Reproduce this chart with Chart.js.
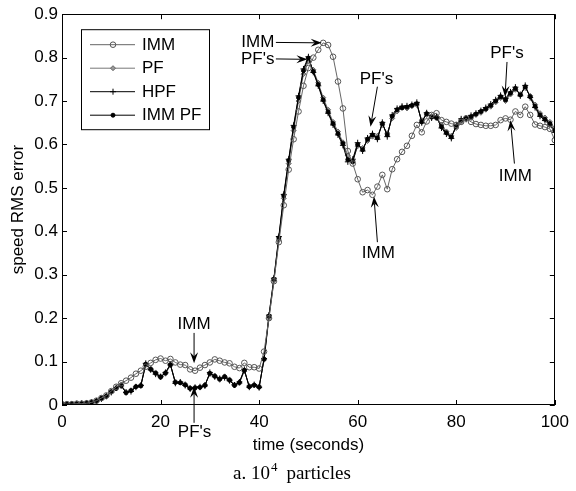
<!DOCTYPE html>
<html>
<head>
<meta charset="utf-8">
<script src="https://cdn.jsdelivr.net/npm/chart.js@4/dist/chart.umd.min.js"></script>
<style>
  html, body { margin: 0; padding: 0; background: #fff; }
  #wrap { width: 576px; height: 491px; position: relative; }
</style>
</head>
<body>
<div id="wrap"><canvas id="chart"></canvas></div>
<script>
const TIME = [0,1,2,3,4,5,6,7,8,9,10,11,12,13,14,15,16,17,18,19,20,21,22,23,24,25,26,27,28,29,30,
  31,32,33,34,35,36,37,38,39,40,41,42,43,44,45,46,47,48,49,50,51,52,53,54,55,56,57,58,59,60,
  61,62,63,64,65,66,67,68,69,70,71,72,73,74,75,76,77,78,79,80,81,82,83,84,85,86,87,88,89,90,
  91,92,93,94,95,96,97,98,99,100];

const IMM = [0.002,0.002,0.002,0.003,0.003,0.004,0.006,0.010,0.016,0.022,0.032,
  0.042,0.050,0.056,0.063,0.072,0.079,0.088,0.097,0.104,0.107,
  0.102,0.106,0.098,0.093,0.092,0.082,0.079,0.086,0.092,0.098,
  0.105,0.102,0.098,0.096,0.088,0.085,0.097,0.087,0.087,0.084,
  0.123,0.200,0.285,0.375,0.460,0.542,0.612,0.676,0.735,0.776,
  0.800,0.818,0.834,0.829,0.802,0.745,0.683,0.585,0.556,0.520,
  0.490,0.495,0.484,0.503,0.530,0.497,0.543,0.566,0.583,0.597,
  0.620,0.645,0.628,0.653,0.668,0.672,0.656,0.652,0.648,0.645,
  0.652,0.660,0.652,0.647,0.645,0.643,0.643,0.645,0.656,0.660,
  0.657,0.676,0.668,0.687,0.668,0.646,0.643,0.640,0.636,0.610];

const PF = [0.002,0.002,0.003,0.003,0.003,0.005,0.007,0.010,0.016,0.021,0.031,
  0.039,0.047,0.030,0.034,0.043,0.046,0.092,0.084,0.075,0.066,
  0.072,0.091,0.054,0.052,0.048,0.040,0.041,0.040,0.047,0.071,
  0.068,0.058,0.066,0.059,0.047,0.050,0.078,0.044,0.045,0.043,
  0.104,0.200,0.286,0.380,0.476,0.556,0.632,0.700,0.762,0.792,
  0.772,0.742,0.708,0.680,0.652,0.630,0.605,0.575,0.562,0.596,
  0.592,0.608,0.618,0.620,0.645,0.626,0.660,0.676,0.686,0.683,
  0.688,0.691,0.656,0.668,0.666,0.660,0.645,0.630,0.620,0.638,
  0.652,0.662,0.661,0.668,0.673,0.680,0.687,0.697,0.707,0.700,
  0.715,0.726,0.716,0.730,0.712,0.692,0.672,0.662,0.652,0.638];

const HPF = [0.002,0.002,0.002,0.003,0.004,0.004,0.006,0.009,0.014,0.020,0.029,
  0.040,0.044,0.029,0.031,0.041,0.045,0.096,0.081,0.071,0.065,
  0.075,0.094,0.050,0.053,0.045,0.037,0.040,0.042,0.044,0.075,
  0.065,0.061,0.063,0.056,0.046,0.053,0.082,0.041,0.047,0.040,
  0.107,0.207,0.292,0.388,0.485,0.566,0.644,0.712,0.774,0.802,
  0.766,0.735,0.700,0.672,0.645,0.622,0.598,0.560,0.566,0.604,
  0.585,0.615,0.625,0.612,0.651,0.618,0.668,0.683,0.688,0.689,
  0.692,0.697,0.650,0.673,0.661,0.664,0.638,0.624,0.614,0.645,
  0.659,0.658,0.667,0.672,0.678,0.685,0.693,0.703,0.713,0.706,
  0.721,0.732,0.712,0.736,0.708,0.685,0.665,0.655,0.645,0.628];

const IMM_PF = [0.002,0.002,0.002,0.002,0.003,0.004,0.006,0.009,0.015,0.020,0.030,
  0.038,0.045,0.028,0.033,0.042,0.044,0.094,0.082,0.073,0.064,
  0.074,0.093,0.052,0.051,0.046,0.038,0.039,0.041,0.045,0.073,
  0.066,0.060,0.065,0.057,0.045,0.052,0.080,0.042,0.046,0.041,
  0.106,0.205,0.290,0.385,0.482,0.563,0.640,0.708,0.770,0.799,
  0.768,0.738,0.703,0.675,0.648,0.625,0.602,0.565,0.560,0.600,
  0.588,0.612,0.622,0.615,0.648,0.622,0.665,0.680,0.684,0.686,
  0.690,0.694,0.652,0.671,0.663,0.662,0.641,0.627,0.617,0.642,
  0.656,0.660,0.664,0.670,0.676,0.682,0.690,0.700,0.710,0.703,
  0.718,0.729,0.714,0.733,0.710,0.688,0.668,0.658,0.648,0.632];

const SERIES_NAMES = ["IMM", "PF", "HPF", "IMM PF"];
const X_TICKS = [0, 20, 40, 60, 80, 100];
const Y_TICKS = [0, 0.1, 0.2, 0.3, 0.4, 0.5, 0.6, 0.7, 0.8, 0.9];

// text labels with arrows, in data coordinates: [label, textX, textY, align, fromX, fromY, toX, toY]
const NOTES = [
  ["IMM", 43.1, 0.835, "right", 43.4, 0.835, 52.7, 0.834],
  ["PF's", 43.1, 0.797, "right", 43.4, 0.797, 49.8, 0.796],
  ["PF's", 63.8, 0.751, "center", 64.0, 0.733, 62.6, 0.641],
  ["PF's", 90.3, 0.810, "center", 90.3, 0.790, 89.9, 0.710],
  ["IMM", 92.0, 0.527, "center", 91.8, 0.556, 91.0, 0.656],
  ["IMM", 64.2, 0.350, "center", 64.0, 0.375, 63.3, 0.480],
  ["IMM", 26.8, 0.185, "center", 26.8, 0.166, 26.8, 0.096],
  ["PF's", 26.9, -0.064, "center", 26.8, -0.041, 26.8, 0.042],
];

const FONT = '"Liberation Sans", Arial, sans-serif';

function toPoints(values) {
  return TIME.map((t, i) => ({ x: t, y: values[i] }));
}

function drawMarker(ctx, ds, x, y) {
  const r = ds.pointRadius;
  ctx.save();
  ctx.strokeStyle = ds.pointBorderColor;
  ctx.fillStyle = ds.pointBackgroundColor;
  ctx.lineWidth = ds.pointBorderWidth;
  ctx.beginPath();
  if (ds.pointStyle === "circle") {
    ctx.arc(x, y, r, 0, Math.PI * 2);
    ctx.fill();
    ctx.stroke();
  } else if (ds.pointStyle === "rectRot") {
    ctx.moveTo(x, y - r); ctx.lineTo(x + r, y); ctx.lineTo(x, y + r); ctx.lineTo(x - r, y); ctx.closePath();
    ctx.fill();
    ctx.stroke();
  } else if (ds.pointStyle === "cross") {
    ctx.moveTo(x - r, y); ctx.lineTo(x + r, y); ctx.moveTo(x, y - r); ctx.lineTo(x, y + r);
    ctx.stroke();
  }
  ctx.restore();
}

function drawArrow(ctx, x0, y0, x1, y1) {
  const ang = Math.atan2(y1 - y0, x1 - x0);
  const len = 11, half = 4, notch = 7;
  ctx.beginPath();
  ctx.moveTo(x0, y0);
  ctx.lineTo(x1 - Math.cos(ang) * notch, y1 - Math.sin(ang) * notch);
  ctx.stroke();
  ctx.beginPath();
  ctx.moveTo(x1, y1);
  ctx.lineTo(x1 - Math.cos(ang) * len - Math.sin(ang) * half, y1 - Math.sin(ang) * len + Math.cos(ang) * half);
  ctx.lineTo(x1 - Math.cos(ang) * notch, y1 - Math.sin(ang) * notch);
  ctx.lineTo(x1 - Math.cos(ang) * len + Math.sin(ang) * half, y1 - Math.sin(ang) * len - Math.cos(ang) * half);
  ctx.closePath();
  ctx.fill();
}

const decor = {
  id: "decor",
  afterDraw(chart) {
    const { ctx, chartArea: a, scales: { x, y } } = chart;
    ctx.save();
    ctx.strokeStyle = "#000";
    ctx.fillStyle = "#000";
    ctx.lineWidth = 1;

    // frame and inward ticks on all four sides
    ctx.strokeRect(Math.round(a.left) + 0.5, Math.round(a.top) + 0.5,
      Math.round(a.right - a.left) - 1, Math.round(a.bottom - a.top) - 1);
    ctx.beginPath();
    X_TICKS.forEach((v) => {
      const px = Math.round(x.getPixelForValue(v)) + 0.5;
      ctx.moveTo(px, a.bottom); ctx.lineTo(px, a.bottom - 5);
      ctx.moveTo(px, a.top); ctx.lineTo(px, a.top + 5);
    });
    Y_TICKS.forEach((v) => {
      const py = Math.round(y.getPixelForValue(v)) + 0.5;
      ctx.moveTo(a.left, py); ctx.lineTo(a.left + 5, py);
      ctx.moveTo(a.right, py); ctx.lineTo(a.right - 5, py);
    });
    ctx.stroke();

    // axis titles and caption
    ctx.font = "17px " + FONT;
    ctx.textAlign = "center";
    ctx.textBaseline = "middle";
    ctx.fillText("time (seconds)", (a.left + a.right) / 2, 445);
    ctx.save();
    ctx.translate(18, (a.top + a.bottom) / 2);
    ctx.rotate(-Math.PI / 2);
    ctx.fillText("speed RMS error", 0, 0);
    ctx.restore();

    ctx.textAlign = "left";
    ctx.textBaseline = "alphabetic";
    ctx.font = '19px "Liberation Serif", "Times New Roman", serif';
    let cx = 233;
    ctx.fillText("a. 10", cx, 479);
    cx += ctx.measureText("a. 10").width + 1;
    ctx.font = '13px "Liberation Serif", "Times New Roman", serif';
    ctx.fillText("4", cx, 471);
    cx += ctx.measureText("4").width + 9;
    ctx.font = '19px "Liberation Serif", "Times New Roman", serif';
    ctx.fillText("particles", cx, 479);

    // annotations
    ctx.font = "17px " + FONT;
    ctx.textBaseline = "middle";
    NOTES.forEach(([label, tx, ty, align, fx, fy, ax, ay]) => {
      ctx.textAlign = align;
      ctx.fillText(label, x.getPixelForValue(tx), y.getPixelForValue(ty));
      drawArrow(ctx, x.getPixelForValue(fx), y.getPixelForValue(fy),
        x.getPixelForValue(ax), y.getPixelForValue(ay));
    });

    // legend box
    const lx = a.left + 19, ly = a.top + 15, lw = 128, lh = 100;
    ctx.fillStyle = "#fff";
    ctx.fillRect(lx, ly, lw, lh);
    ctx.strokeRect(lx + 0.5, ly + 0.5, lw, lh);
    ctx.textAlign = "left";
    chart.data.datasets.forEach((ds, i) => {
      const rowY = ly + 15 + i * 23.5;
      ctx.strokeStyle = ds.borderColor;
      ctx.beginPath();
      ctx.moveTo(lx + 9, rowY + 0.5);
      ctx.lineTo(lx + 54, rowY + 0.5);
      ctx.stroke();
      drawMarker(ctx, ds, lx + 32, rowY + 0.5);
      ctx.fillStyle = "#000";
      ctx.fillText(ds.label, lx + 61, rowY + 1);
    });
    ctx.restore();
  },
};

const STYLE = [
  { borderColor: "#666", pointStyle: "circle", pointRadius: 2.8, pointBorderColor: "#555", pointBackgroundColor: "rgba(255,255,255,0)", pointBorderWidth: 1 },
  { borderColor: "#777", pointStyle: "rectRot", pointRadius: 2.5, pointBorderColor: "#666", pointBackgroundColor: "#999", pointBorderWidth: 1 },
  { borderColor: "#000", pointStyle: "cross", pointRadius: 3, pointBorderColor: "#000", pointBackgroundColor: "#000", pointBorderWidth: 1 },
  { borderColor: "#000", pointStyle: "circle", pointRadius: 2, pointBorderColor: "#000", pointBackgroundColor: "#000", pointBorderWidth: 1 },
];

const VALUES = [IMM, PF, HPF, IMM_PF];

new Chart(document.getElementById("chart"), {
  type: "line",
  data: {
    datasets: SERIES_NAMES.map((name, i) => ({
      label: name,
      data: toPoints(VALUES[i]),
      borderWidth: 1,
      tension: 0,
      fill: false,
      order: i === 0 ? 0 : 4 - i,
      ...STYLE[i],
    })),
  },
  options: {
    responsive: true,
    maintainAspectRatio: false,
    animation: false,
    devicePixelRatio: 1,
    layout: { padding: { top: 14, right: 17, bottom: 0, left: 0 } },
    plugins: { legend: { display: false }, tooltip: { enabled: false } },
    scales: {
      x: {
        type: "linear",
        min: 0,
        max: 100,
        afterBuildTicks: (s) => { s.ticks = X_TICKS.map((v) => ({ value: v })); },
        afterFit: (s) => { s.height = 86; },
        grid: { display: false, drawTicks: false },
        border: { display: false },
        ticks: { color: "#000", font: { size: 17, family: FONT }, padding: 7, maxRotation: 0 },
      },
      y: {
        min: 0,
        max: 0.9,
        afterBuildTicks: (s) => { s.ticks = Y_TICKS.map((v) => ({ value: v })); },
        afterFit: (s) => { s.width = 62; },
        grid: { display: false, drawTicks: false },
        border: { display: false },
        ticks: {
          color: "#000",
          font: { size: 17, family: FONT },
          padding: 4,
          callback: (v) => String(Number(v.toFixed(1))),
        },
      },
    },
  },
  plugins: [decor],
});
</script>
</body>
</html>
